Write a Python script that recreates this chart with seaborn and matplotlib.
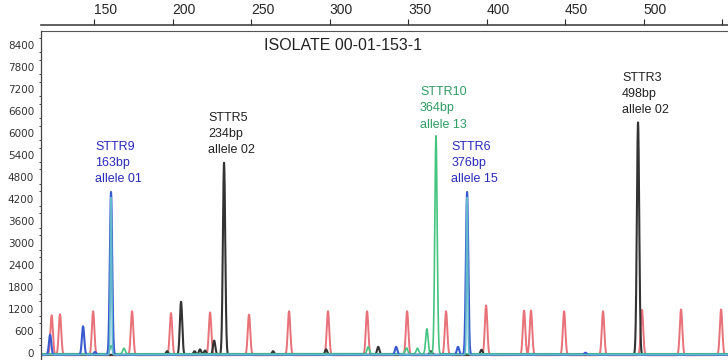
import numpy as np
import matplotlib.pyplot as plt
import seaborn as sns

# Peak positions (size axis units) and heights (RFU)
red_pos = [123, 128.3, 149.4, 174.2, 199, 223.9, 248.7, 274.2, 299, 323.9,
           349.4, 374.2, 399.7, 423.9, 428.3, 449.4, 474.2, 499, 523.9, 549.4]
red_hgt = [1090, 1120, 1200, 1200, 1150, 1170, 1110, 1200, 1200, 1200,
           1200, 1200, 1360, 1220, 1220, 1200, 1200, 1240, 1250, 1250]

black_pos = [196.5, 205.4, 214, 217.5, 220.7, 226.5, 232.8, 264, 297.8, 331, 364.6, 396.8, 496.5]
black_hgt = [100, 1450, 100, 150, 120, 390, 5250, 100, 150, 220, 100, 140, 6350]

green_pos = [160.8, 169, 324.6, 349, 356, 362, 367.8]
green_hgt = [220, 150, 190, 160, 150, 680, 5950]

blue_pos = [122, 143, 150.6, 160.8, 342.4, 381.8, 387.6, 463]
blue_hgt = [550, 780, 80, 4450, 220, 220, 4450, 60]

cyan_pos = [160.8, 387.6]
cyan_hgt = [4300, 4300]

# Called alleles
loci = ["STTR9", "STTR5", "STTR10", "STTR6", "STTR3"]
sizes = ["163bp", "234bp", "364bp", "376bp", "498bp"]
alleles = ["allele 01", "allele 02", "allele 13", "allele 15", "allele 02"]
call_pos = [160.8, 232.8, 367.8, 387.6, 496.5]
call_hgt = [4450, 5250, 5950, 4450, 6350]
call_col = ["#2a2ab8", "#222222", "#2f9c62", "#2a2ab8", "#222222"]

x_ticks = [150, 200, 250, 300, 350, 400, 450, 500, 550]
x_labels = ["150", "200", "250", "300", "350", "400", "450", "500", ""]
y_ticks = list(range(0, 8401, 600))

sns.set_style("white")
plt.rcParams["font.family"] = ["Liberation Sans", "DejaVu Sans"]
plt.rcParams["xtick.alignment"] = "left"

fig = plt.figure(figsize=(7.28, 3.6), dpi=100)
ax = fig.add_axes([41 / 728, 0.0, 1 - 41 / 728, 1 - 31 / 360])

x = np.linspace(116.2, 553.8, 6000)


def trace(pos, hgt, sigma, base):
    y = np.full_like(x, base, dtype=float)
    for p, h in zip(pos, hgt):
        y += h * np.exp(-0.5 * ((x - p) / sigma) ** 2)
    return y


sns.lineplot(x=x, y=trace(red_pos, red_hgt, 0.8, -70), color="#e8727a", lw=1.4, ax=ax)
sns.lineplot(x=x, y=trace(black_pos, black_hgt, 0.75, -60), color="#333333", lw=1.5, ax=ax)
sns.lineplot(x=x, y=trace(green_pos, green_hgt, 0.75, -30), color="#44c480", lw=1.2, ax=ax)
sns.lineplot(x=x, y=trace(blue_pos, blue_hgt, 0.75, -60), color="#3a5ad0", lw=1.5, ax=ax)
sns.lineplot(x=x, y=trace(cyan_pos, cyan_hgt, 0.4, -55), color="#62b8cc", lw=1.2, ax=ax)

for name, sz, al, p, h, c in zip(loci, sizes, alleles, call_pos, call_hgt, call_col):
    ax.annotate(f"{name}\n{sz}\n{al}", xy=(p, h), xytext=(-11.5, 3),
                textcoords="offset points", ha="left", va="bottom",
                color=c, fontsize=9, linespacing=1.45)

fig.text(343 / 728, 1 - 46 / 360, "ISOLATE 00-01-153-1", ha="center", va="center",
         fontsize=11.5, color="#222222")

ax.set_xlim(116.2, 553.8)
ax.set_ylim(-190, 8780)

ax.xaxis.tick_top()
ax.set_xticks(x_ticks)
ax.set_yticks(y_ticks)
ax.set_yticks(range(-200, 8800, 200), minor=True)
ax.tick_params(axis="x", which="major", direction="out", length=4, width=0.8, pad=2, top=True, bottom=False)
ax.tick_params(axis="y", which="major", direction="out", length=3, width=0.8, pad=2)
ax.tick_params(axis="y", which="minor", direction="out", length=1.5, width=0.6, left=True)
ax.set_xticklabels(x_labels, fontsize=7, color="#333333", ha="left")
ax.set_yticklabels([str(v) for v in y_ticks], fontsize=7.5, color="#333333", family="DejaVu Sans")
ax.set_xlabel("")
ax.set_ylabel("")

for side in ["right", "bottom"]:
    ax.spines[side].set_visible(False)
ax.spines["left"].set_color("#444444")
ax.spines["left"].set_linewidth(0.9)
ax.spines["top"].set_position(("outward", 4))
ax.spines["top"].set_color("#444444")
ax.spines["top"].set_linewidth(1.2)
ax.plot([0, 1], [1, 1], transform=ax.transAxes, color="#555555", lw=0.8, clip_on=False)

fig.savefig("out.png", dpi=100)
